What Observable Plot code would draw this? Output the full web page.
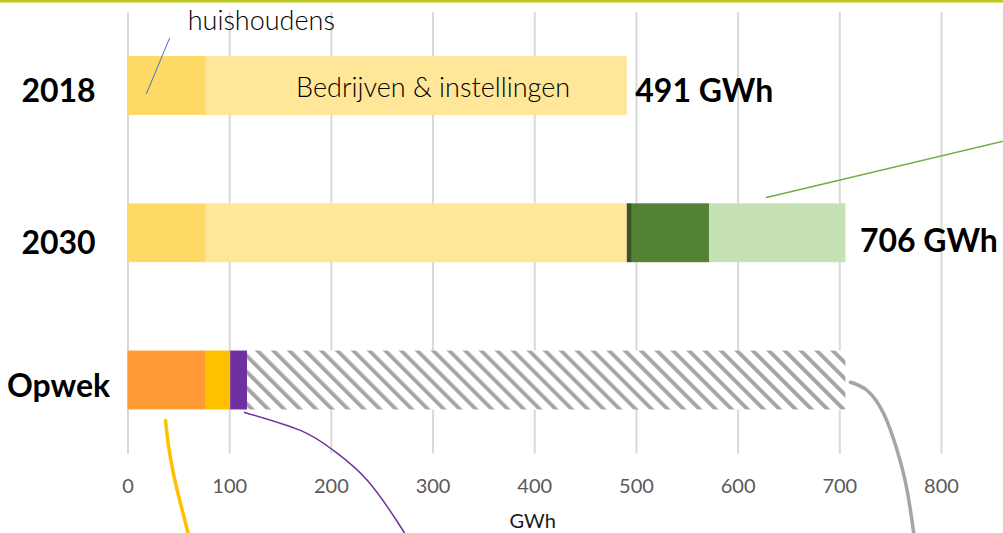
<!DOCTYPE html>
<html><head><meta charset="utf-8">
<script src="https://cdn.jsdelivr.net/npm/d3@7"></script>
<script src="https://cdn.jsdelivr.net/npm/@observablehq/plot@0.6"></script>
<style>
html,body{margin:0;padding:0;background:#fff;overflow:hidden}
#chart svg{display:block}
</style></head><body><div id="chart"></div>
<script>
// ---- data ----
const categories = ["2018", "2030", "Opwek"];
const segments2018 = [77, 414];                 // huishoudens, bedrijven & instellingen
const segments2030 = [77, 414, 5, 76, 134];     // + growth segments (greens)
const segmentsOpwek = [77, 24, 16.5, 588.5];    // opwek segments, last = remaining (hatched)
const totals = [491, 706];
const totalLabels = ["491 GWh", "706 GWh"];
const xTicks = [0, 100, 200, 300, 400, 500, 600, 700, 800];
const axisTitle = "GWh";
const labelHuishoudens = "huishoudens";
const labelBedrijven = "Bedrijven & instellingen";
// annotation leader lines, in (GWh, row) coordinates
const leaderHuishoudens = [[40.8, -0.323], [18.2, 0.051]];
const leaderGreen = [[627.9, 0.757], [870, 0.36]];
const leaderYellow = [[36.9, 2.272], [39.8, 2.441], [44.7, 2.632], [51.6, 2.835], [60, 3.06]];
const leaderPurple = [[114.6, 2.217], [169.6, 2.339], [202.1, 2.475], [235.5, 2.679], [266.0, 2.971], [274, 3.06]];
const leaderGray = [[710.5, 2.012], [726.9, 2.068], [743.2, 2.226], [756.4, 2.475], [766.2, 2.747], [772.7, 3.037], [773.5, 3.07]];

// ---- styles ----
const fills2018 = ["#FFD966", "#FFE699"];
const fills2030 = ["#FFD966", "#FFE699", "#375623", "#548235", "#C5E0B4"];
const fillsOpwek = ["#FF9A36", "#FFC000", "#7030A0", "url(#hatch)"];

function stackRow(values, fills, row) {
  let acc = 0;
  return values.map((v, i) => {
    const x1 = acc; acc += v;
    return {row, x1, x2: acc, fill: fills[i]};
  });
}
const bars = [
  ...stackRow(segments2018, fills2018, 0),
  ...stackRow(segments2030, fills2030, 1),
  ...stackRow(segmentsOpwek, fillsOpwek, 2)
];
const H = 0.2;

const chart = Plot.plot({
  width: 1003, height: 533,
  marginTop: 0, marginRight: 0, marginBottom: 0, marginLeft: 0,
  x: {domain: [0, 800], range: [127.5, 941], axis: null},
  y: {domain: [0, 2], range: [85.5, 380], axis: null},
  style: {fontFamily: "Lato, 'Open Sans', sans-serif", background: "#fff", overflow: "hidden"},
  marks: [
    Plot.frame({anchor: "top", stroke: "#BDC918", strokeWidth: 4}),
    Plot.ruleX(xTicks, {x: d => d, y1: () => -0.5, y2: () => 2.5, stroke: "#D9D9D9", strokeWidth: 2}),
    Plot.rectX(bars, {x1: "x1", x2: "x2", y1: d => d.row - H, y2: d => d.row + H, fill: d => d.fill}),
    Plot.text([labelBedrijven], {x: () => 300, y: () => 0, text: d => d, dy: 2, fontSize: 27, fontWeight: 300, fill: "#000"}),
    Plot.text([labelHuishoudens], {x: () => 58.7, y: () => -0.441, text: d => d, textAnchor: "start", fontSize: 27, fontWeight: 300, fill: "#000"}),
    Plot.text(categories.filter((c, i) => i !== 1), {frameAnchor: "left", y: d => categories.indexOf(d), text: d => d, dx: 58, dy: 6, textAnchor: "middle", fontSize: 32, fontWeight: "bold", fill: "#000"}),
    Plot.text([categories[1]], {frameAnchor: "left", y: d => categories.indexOf(d), text: d => d, dx: 58, dy: 10, textAnchor: "middle", fontSize: 32, fontWeight: "bold", fill: "#000"}),
    Plot.text([0], {x: () => totals[0], y: () => 0, text: () => totalLabels[0], dx: 8, dy: 6, textAnchor: "start", fontSize: 32, fontWeight: "bold", fill: "#000"}),
    Plot.text([1], {x: () => totals[1], y: () => 1, text: () => totalLabels[1], dx: 14, dy: 8, textAnchor: "start", fontSize: 32, fontWeight: "bold", fill: "#000"}),
    Plot.text(xTicks, {x: d => d, y: () => 2.718, text: d => String(d), fontSize: 20, fill: "#595959"}),
    Plot.text([axisTitle], {x: () => 398, y: () => 2.96, text: d => d, fontSize: 20, fill: "#1a1a1a"}),
    Plot.line(leaderHuishoudens, {x: d => d[0], y: d => d[1], stroke: "#4472C4", strokeWidth: 1}),
    Plot.line(leaderGreen, {x: d => d[0], y: d => d[1], stroke: "#70AD47", strokeWidth: 1.5}),
    Plot.line(leaderYellow, {x: d => d[0], y: d => d[1], stroke: "#FFC000", strokeWidth: 3.5, curve: "natural"}),
    Plot.line(leaderPurple, {x: d => d[0], y: d => d[1], stroke: "#7030A0", strokeWidth: 1.5, curve: "natural"}),
    Plot.line(leaderGray, {x: d => d[0], y: d => d[1], stroke: "#A5A5A5", strokeWidth: 3.5, curve: "natural"})
  ]
});

d3.select(chart).insert("defs", ":first-child").html(
  '<pattern id="hatch" patternUnits="userSpaceOnUse" width="11.3" height="11.3" patternTransform="rotate(-45)">' +
  '<rect width="11.3" height="11.3" fill="#fff"/>' +
  '<rect x="0" y="0" width="3.9" height="11.3" fill="#A6A6A6"/></pattern>'
);
document.getElementById("chart").appendChild(chart);
</script></body></html>
